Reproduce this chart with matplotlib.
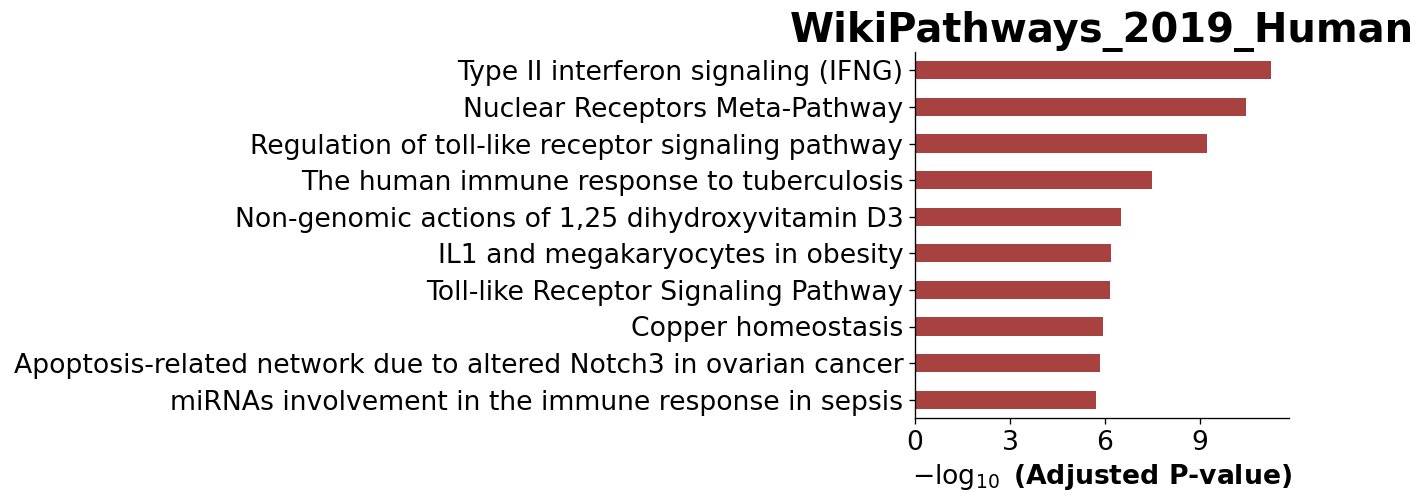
import matplotlib
matplotlib.use("Agg")
import matplotlib.pyplot as plt

terms = [
    "Type II interferon signaling (IFNG)",
    "Nuclear Receptors Meta-Pathway",
    "Regulation of toll-like receptor signaling pathway",
    "The human immune response to tuberculosis",
    "Non-genomic actions of 1,25 dihydroxyvitamin D3",
    "IL1 and megakaryocytes in obesity",
    "Toll-like Receptor Signaling Pathway",
    "Copper homeostasis",
    "Apoptosis-related network due to altered Notch3 in ovarian cancer",
    "miRNAs involvement in the immune response in sepsis",
]
neg_log10_padj = [11.25, 10.44, 9.22, 7.50, 6.52, 6.20, 6.16, 5.94, 5.85, 5.72]
xticks = [0, 3, 6, 9]
title = "WikiPathways_2019_Human"

DPI = 120
fig = plt.figure(figsize=(1426 / DPI, 504 / DPI), dpi=DPI)
ax = fig.add_axes([915 / 1426, 1 - 418 / 504, (1289 - 915) / 1426, (418 - 52) / 504])

ypos = list(range(len(terms)))[::-1]
ax.barh(ypos, neg_log10_padj, height=0.5, color="#A84240")
ax.set_yticks(ypos)
ax.set_yticklabels(terms, fontsize=16)
ax.set_ylim(-0.5, len(terms) - 0.5)
ax.set_xticks(xticks)
ax.tick_params(axis="x", labelsize=16)
ax.set_xlim(0, max(neg_log10_padj) * 1.05)
ax.spines["top"].set_visible(False)
ax.spines["right"].set_visible(False)
ax.set_xlabel(r"$- \log_{10}$ (Adjusted P-value)", fontsize=16, fontweight="bold")
ax.set_title(title, fontsize=24, fontweight="bold")

fig.savefig("out.png", dpi=DPI)
